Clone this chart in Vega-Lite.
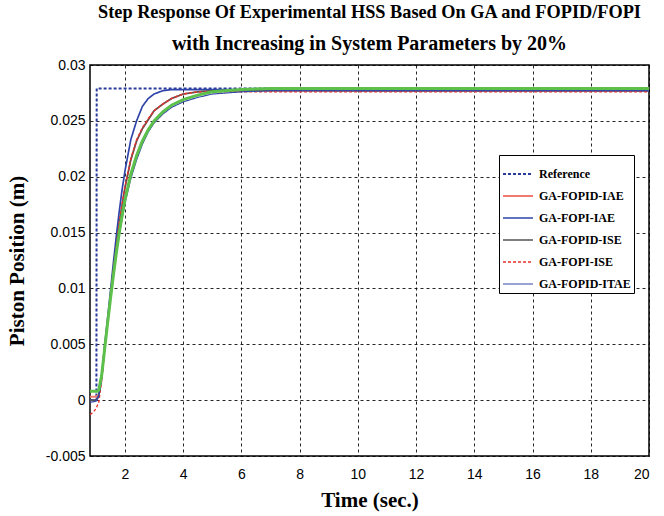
{
  "$schema": "https://vega.github.io/schema/vega-lite/v6.json",
  "width": 559,
  "height": 391,
  "autosize": {"type": "none"},
  "padding": {"left": 90, "top": 65, "right": 15, "bottom": 60},
  "background": "white",
  "title": {
    "text": "Step Response Of Experimental HSS Based On GA and FOPID/FOPI",
    "subtitle": "with Increasing in System Parameters by 20%",
    "font": "Liberation Serif",
    "fontSize": 18.3,
    "fontWeight": "bold",
    "color": "black",
    "subtitleFont": "Liberation Serif",
    "subtitleFontSize": 20,
    "subtitleFontWeight": "bold",
    "subtitleColor": "black",
    "subtitlePadding": 11,
    "anchor": "middle",
    "offset": 3.5
  },
  "config": {
    "view": {"stroke": "black", "strokeWidth": 1.5},
    "axis": {
      "labelFont": "Liberation Sans",
      "labelFontSize": 14,
      "labelColor": "black",
      "titleFont": "Liberation Serif",
      "titleFontSize": 21,
      "titleFontWeight": "bold",
      "titleColor": "black",
      "ticks": false,
      "domain": false,
      "grid": true,
      "gridColor": "black",
      "gridDash": [3, 3],
      "gridOpacity": 0.85,
      "gridWidth": 1
    },
    "legend": {
      "labelFont": "Liberation Serif",
      "labelFontSize": 12,
      "labelFontWeight": "bold",
      "labelColor": "black"
    }
  },
  "datasets": {
    "resp": [
      {"t": 0.8, "s": "Reference", "y": 0},
      {"t": 1.02, "s": "Reference", "y": 0},
      {"t": 1.03, "s": "Reference", "y": 0.0279},
      {"t": 20, "s": "Reference", "y": 0.0279},

      {"t": 0.8, "s": "GA-FOPID-IAE", "y": 0.0003},
      {"t": 1.0, "s": "GA-FOPID-IAE", "y": 0.0003},
      {"t": 1.1, "s": "GA-FOPID-IAE", "y": 0.0005},
      {"t": 1.2, "s": "GA-FOPID-IAE", "y": 0.002},
      {"t": 1.3, "s": "GA-FOPID-IAE", "y": 0.0046},
      {"t": 1.4, "s": "GA-FOPID-IAE", "y": 0.0069},
      {"t": 1.5, "s": "GA-FOPID-IAE", "y": 0.0092},
      {"t": 1.6, "s": "GA-FOPID-IAE", "y": 0.0115},
      {"t": 1.7, "s": "GA-FOPID-IAE", "y": 0.0137},
      {"t": 1.8, "s": "GA-FOPID-IAE", "y": 0.0157},
      {"t": 1.9, "s": "GA-FOPID-IAE", "y": 0.0174},
      {"t": 2.0, "s": "GA-FOPID-IAE", "y": 0.019},
      {"t": 2.2, "s": "GA-FOPID-IAE", "y": 0.0215},
      {"t": 2.4, "s": "GA-FOPID-IAE", "y": 0.0232},
      {"t": 2.6, "s": "GA-FOPID-IAE", "y": 0.0243},
      {"t": 2.8, "s": "GA-FOPID-IAE", "y": 0.0251},
      {"t": 3.0, "s": "GA-FOPID-IAE", "y": 0.0259},
      {"t": 3.3, "s": "GA-FOPID-IAE", "y": 0.0265},
      {"t": 3.6, "s": "GA-FOPID-IAE", "y": 0.027},
      {"t": 4.0, "s": "GA-FOPID-IAE", "y": 0.0274},
      {"t": 4.5, "s": "GA-FOPID-IAE", "y": 0.0276},
      {"t": 5.0, "s": "GA-FOPID-IAE", "y": 0.0277},
      {"t": 8.0, "s": "GA-FOPID-IAE", "y": 0.0277},
      {"t": 20, "s": "GA-FOPID-IAE", "y": 0.0277},

      {"t": 0.8, "s": "GA-FOPI-IAE", "y": 0.0},
      {"t": 1.0, "s": "GA-FOPI-IAE", "y": 0.0},
      {"t": 1.1, "s": "GA-FOPI-IAE", "y": 0.0004},
      {"t": 1.2, "s": "GA-FOPI-IAE", "y": 0.0022},
      {"t": 1.3, "s": "GA-FOPI-IAE", "y": 0.0048},
      {"t": 1.4, "s": "GA-FOPI-IAE", "y": 0.0072},
      {"t": 1.5, "s": "GA-FOPI-IAE", "y": 0.0097},
      {"t": 1.6, "s": "GA-FOPI-IAE", "y": 0.0122},
      {"t": 1.7, "s": "GA-FOPI-IAE", "y": 0.0146},
      {"t": 1.8, "s": "GA-FOPI-IAE", "y": 0.0168},
      {"t": 1.9, "s": "GA-FOPI-IAE", "y": 0.0188},
      {"t": 2.0, "s": "GA-FOPI-IAE", "y": 0.0205},
      {"t": 2.2, "s": "GA-FOPI-IAE", "y": 0.0233},
      {"t": 2.4, "s": "GA-FOPI-IAE", "y": 0.025},
      {"t": 2.6, "s": "GA-FOPI-IAE", "y": 0.0263},
      {"t": 2.8, "s": "GA-FOPI-IAE", "y": 0.027},
      {"t": 3.0, "s": "GA-FOPI-IAE", "y": 0.0274},
      {"t": 3.3, "s": "GA-FOPI-IAE", "y": 0.0277},
      {"t": 3.6, "s": "GA-FOPI-IAE", "y": 0.0278},
      {"t": 5.0, "s": "GA-FOPI-IAE", "y": 0.0278},
      {"t": 10.8, "s": "GA-FOPI-IAE", "y": 0.0277},
      {"t": 20, "s": "GA-FOPI-IAE", "y": 0.0277},

      {"t": 0.8, "s": "GA-FOPID-ISE", "y": 0.0},
      {"t": 1.0, "s": "GA-FOPID-ISE", "y": 0.0},
      {"t": 1.1, "s": "GA-FOPID-ISE", "y": 0.0003},
      {"t": 1.2, "s": "GA-FOPID-ISE", "y": 0.002},
      {"t": 1.3, "s": "GA-FOPID-ISE", "y": 0.0046},
      {"t": 1.4, "s": "GA-FOPID-ISE", "y": 0.0069},
      {"t": 1.5, "s": "GA-FOPID-ISE", "y": 0.0092},
      {"t": 1.6, "s": "GA-FOPID-ISE", "y": 0.0115},
      {"t": 1.7, "s": "GA-FOPID-ISE", "y": 0.0137},
      {"t": 1.8, "s": "GA-FOPID-ISE", "y": 0.0157},
      {"t": 1.9, "s": "GA-FOPID-ISE", "y": 0.0174},
      {"t": 2.0, "s": "GA-FOPID-ISE", "y": 0.019},
      {"t": 2.2, "s": "GA-FOPID-ISE", "y": 0.0215},
      {"t": 2.4, "s": "GA-FOPID-ISE", "y": 0.0232},
      {"t": 2.6, "s": "GA-FOPID-ISE", "y": 0.0243},
      {"t": 2.8, "s": "GA-FOPID-ISE", "y": 0.0251},
      {"t": 3.0, "s": "GA-FOPID-ISE", "y": 0.0259},
      {"t": 3.3, "s": "GA-FOPID-ISE", "y": 0.0265},
      {"t": 3.6, "s": "GA-FOPID-ISE", "y": 0.027},
      {"t": 4.0, "s": "GA-FOPID-ISE", "y": 0.0274},
      {"t": 4.5, "s": "GA-FOPID-ISE", "y": 0.0276},
      {"t": 5.0, "s": "GA-FOPID-ISE", "y": 0.0277},
      {"t": 20, "s": "GA-FOPID-ISE", "y": 0.0277},

      {"t": 0.8, "s": "GA-FOPI-ISE", "y": -0.0013},
      {"t": 0.9, "s": "GA-FOPI-ISE", "y": -0.0011},
      {"t": 1.0, "s": "GA-FOPI-ISE", "y": -0.0008},
      {"t": 1.1, "s": "GA-FOPI-ISE", "y": -0.0002},
      {"t": 1.2, "s": "GA-FOPI-ISE", "y": 0.0017},
      {"t": 1.3, "s": "GA-FOPI-ISE", "y": 0.0045},
      {"t": 1.4, "s": "GA-FOPI-ISE", "y": 0.0069},
      {"t": 1.5, "s": "GA-FOPI-ISE", "y": 0.0092},
      {"t": 1.6, "s": "GA-FOPI-ISE", "y": 0.0115},
      {"t": 1.7, "s": "GA-FOPI-ISE", "y": 0.0137},
      {"t": 1.8, "s": "GA-FOPI-ISE", "y": 0.0158},
      {"t": 1.9, "s": "GA-FOPI-ISE", "y": 0.0175},
      {"t": 2.0, "s": "GA-FOPI-ISE", "y": 0.0191},
      {"t": 2.2, "s": "GA-FOPI-ISE", "y": 0.0216},
      {"t": 2.4, "s": "GA-FOPI-ISE", "y": 0.0233},
      {"t": 2.6, "s": "GA-FOPI-ISE", "y": 0.0244},
      {"t": 2.8, "s": "GA-FOPI-ISE", "y": 0.0252},
      {"t": 3.0, "s": "GA-FOPI-ISE", "y": 0.0259},
      {"t": 3.3, "s": "GA-FOPI-ISE", "y": 0.0265},
      {"t": 3.6, "s": "GA-FOPI-ISE", "y": 0.027},
      {"t": 4.0, "s": "GA-FOPI-ISE", "y": 0.0274},
      {"t": 4.5, "s": "GA-FOPI-ISE", "y": 0.0276},
      {"t": 5.0, "s": "GA-FOPI-ISE", "y": 0.0276},
      {"t": 20, "s": "GA-FOPI-ISE", "y": 0.0276},

      {"t": 0.8, "s": "GA-FOPID-ITAE", "y": -0.0002},
      {"t": 1.0, "s": "GA-FOPID-ITAE", "y": -0.0001},
      {"t": 1.1, "s": "GA-FOPID-ITAE", "y": 0.0003},
      {"t": 1.2, "s": "GA-FOPID-ITAE", "y": 0.0019},
      {"t": 1.3, "s": "GA-FOPID-ITAE", "y": 0.0044},
      {"t": 1.4, "s": "GA-FOPID-ITAE", "y": 0.0067},
      {"t": 1.5, "s": "GA-FOPID-ITAE", "y": 0.0089},
      {"t": 1.6, "s": "GA-FOPID-ITAE", "y": 0.011},
      {"t": 1.7, "s": "GA-FOPID-ITAE", "y": 0.013},
      {"t": 1.8, "s": "GA-FOPID-ITAE", "y": 0.0147},
      {"t": 1.9, "s": "GA-FOPID-ITAE", "y": 0.0162},
      {"t": 2.0, "s": "GA-FOPID-ITAE", "y": 0.0176},
      {"t": 2.2, "s": "GA-FOPID-ITAE", "y": 0.0198},
      {"t": 2.4, "s": "GA-FOPID-ITAE", "y": 0.0215},
      {"t": 2.6, "s": "GA-FOPID-ITAE", "y": 0.0229},
      {"t": 2.8, "s": "GA-FOPID-ITAE", "y": 0.024},
      {"t": 3.0, "s": "GA-FOPID-ITAE", "y": 0.0248},
      {"t": 3.3, "s": "GA-FOPID-ITAE", "y": 0.0256},
      {"t": 3.6, "s": "GA-FOPID-ITAE", "y": 0.0262},
      {"t": 4.0, "s": "GA-FOPID-ITAE", "y": 0.0267},
      {"t": 4.5, "s": "GA-FOPID-ITAE", "y": 0.0271},
      {"t": 5.0, "s": "GA-FOPID-ITAE", "y": 0.0274},
      {"t": 6.0, "s": "GA-FOPID-ITAE", "y": 0.0276},
      {"t": 7.0, "s": "GA-FOPID-ITAE", "y": 0.0277},
      {"t": 20, "s": "GA-FOPID-ITAE", "y": 0.0277}
    ],
    "extra": [
      {"t": 0.8, "y": 0.0008},
      {"t": 1.05, "y": 0.0008},
      {"t": 1.1, "y": 0.0009},
      {"t": 1.2, "y": 0.0022},
      {"t": 1.3, "y": 0.0045},
      {"t": 1.4, "y": 0.0068},
      {"t": 1.5, "y": 0.009},
      {"t": 1.6, "y": 0.0111},
      {"t": 1.7, "y": 0.0131},
      {"t": 1.8, "y": 0.0149},
      {"t": 1.9, "y": 0.0165},
      {"t": 2.0, "y": 0.0179},
      {"t": 2.2, "y": 0.0202},
      {"t": 2.4, "y": 0.0219},
      {"t": 2.6, "y": 0.0232},
      {"t": 2.8, "y": 0.0242},
      {"t": 3.0, "y": 0.025},
      {"t": 3.3, "y": 0.0258},
      {"t": 3.6, "y": 0.0264},
      {"t": 4.0, "y": 0.0269},
      {"t": 4.5, "y": 0.0273},
      {"t": 5.0, "y": 0.0276},
      {"t": 6.0, "y": 0.0278},
      {"t": 7.0, "y": 0.0279},
      {"t": 20, "y": 0.0279}
    ]
  },
  "encoding": {
    "x": {
      "field": "t",
      "type": "quantitative",
      "title": "Time (sec.)",
      "scale": {"domain": [0.8, 20], "nice": false, "zero": false},
      "axis": {"values": [2, 4, 6, 8, 10, 12, 14, 16, 18, 20], "labelPadding": 11, "titlePadding": 8}
    },
    "y": {
      "field": "y",
      "type": "quantitative",
      "title": "Piston Position (m)",
      "scale": {"domain": [-0.005, 0.03], "nice": false, "zero": false},
      "axis": {
        "values": [-0.005, 0, 0.005, 0.01, 0.015, 0.02, 0.025, 0.03],
        "labelExpr": "datum.value < 0 ? '-' + format(-datum.value, '~g') : format(datum.value, '~g')",
        "labelPadding": 5,
        "titlePadding": 18
      }
    }
  },
  "layer": [
    {
      "data": {"name": "resp"},
      "mark": {"type": "line", "clip": true},
      "encoding": {
        "color": {
          "field": "s",
          "type": "nominal",
          "scale": {
            "domain": ["Reference", "GA-FOPID-IAE", "GA-FOPI-IAE", "GA-FOPID-ISE", "GA-FOPI-ISE", "GA-FOPID-ITAE"],
            "range": ["#2a3a9c", "#f07a70", "#2f44a8", "#555555", "#e8322a", "#3448a8"]
          },
          "legend": {
            "title": null,
            "orient": "none",
            "legendX": 409,
            "legendY": 90,
            "fillColor": "white",
            "strokeColor": "black",
            "padding": 3,
            "symbolType": "stroke",
            "symbolSize": 900,
            "rowPadding": -8,
            "labelOffset": 5,
            "encode": {
              "symbols": {
                "update": {"strokeWidth": {"scale": "strokeWidth", "field": "value"}}
              }
            }
          }
        },
        "strokeDash": {
          "field": "s",
          "type": "nominal",
          "scale": {
            "domain": ["Reference", "GA-FOPID-IAE", "GA-FOPI-IAE", "GA-FOPID-ISE", "GA-FOPI-ISE", "GA-FOPID-ITAE"],
            "range": [[3, 2], [1, 0], [1, 0], [1, 0], [3, 2], [1, 0]]
          }
        },
        "strokeWidth": {
          "field": "s",
          "type": "nominal",
          "scale": {
            "domain": ["Reference", "GA-FOPID-IAE", "GA-FOPI-IAE", "GA-FOPID-ISE", "GA-FOPI-ISE", "GA-FOPID-ITAE"],
            "range": [2, 1.2, 2.8, 1.2, 2, 2.8]
          }
        }
      }
    },
    {
      "data": {"name": "extra"},
      "mark": {"type": "line", "clip": true, "color": "#5cc04a", "strokeWidth": 3},
      "encoding": {}
    }
  ]
}
